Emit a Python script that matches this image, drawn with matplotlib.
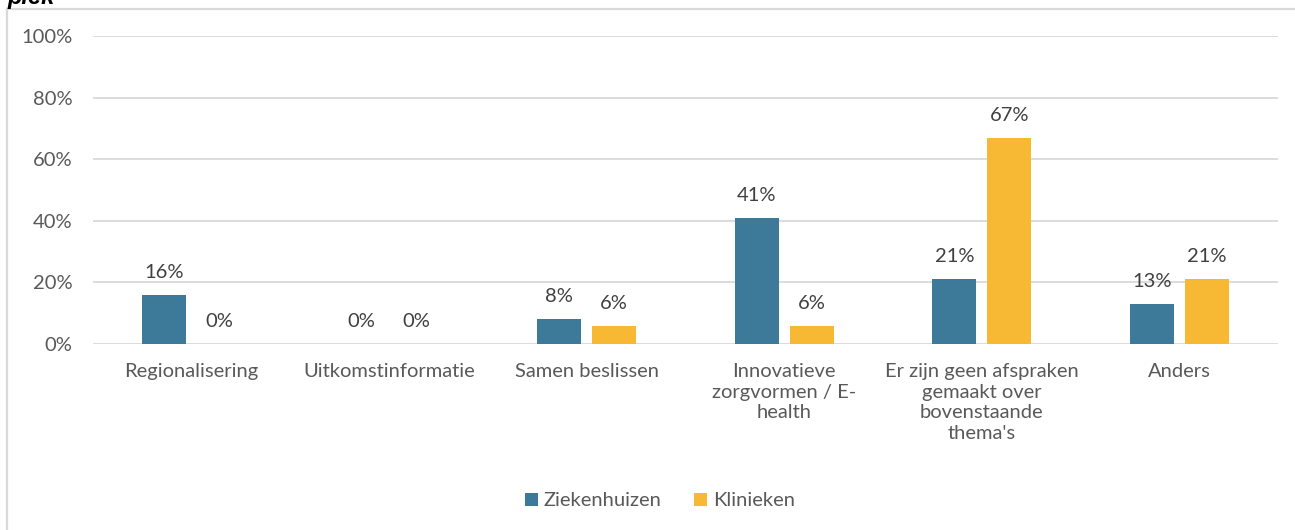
import matplotlib

matplotlib.use("Agg")
import matplotlib.pyplot as plt
import numpy as np

# data
categories = [
    "Regionalisering",
    "Uitkomstinformatie",
    "Samen beslissen",
    "Innovatieve\nzorgvormen / E-\nhealth",
    "Er zijn geen afspraken\ngemaakt over\nbovenstaande\nthema's",
    "Anders",
]
series_names = ["Ziekenhuizen", "Klinieken"]
ziekenhuizen = [16, 0, 8, 41, 21, 13]
klinieken = [0, 0, 6, 6, 67, 21]
yticks = [0, 20, 40, 60, 80, 100]

BLUE = "#3D7A99"
YELLOW = "#F7B934"
GRID = "#D9D9D9"
TICK = "#595959"
LABEL = "#404040"
FS = 14.5

plt.rcParams["font.family"] = ["Lato", "DejaVu Sans"]

fig = plt.figure(figsize=(12.95, 5.30), dpi=100)
ax = fig.add_axes([93 / 1295, 1 - 344 / 530, (1278 - 93) / 1295, (344 - 36) / 530])

x = np.arange(len(categories))
w = 0.223
off = 0.139
for vals, dx, color, name in [(ziekenhuizen, -off, BLUE, series_names[0]),
                              (klinieken, off, YELLOW, series_names[1])]:
    bars = ax.bar(x + dx, vals, width=w, color=color, label=name, zorder=3)
    for b, v in zip(bars, vals):
        ax.annotate(f"{v:.0f}%", (b.get_x() + b.get_width() / 2, v),
                    xytext=(0, 10), textcoords="offset points",
                    ha="center", va="bottom", fontsize=FS, color=LABEL)

ax.set_xlim(-0.5, len(categories) - 0.5)
ax.set_ylim(0, 100)
ax.set_yticks(yticks)
ax.set_yticklabels([f"{t}%" for t in yticks])
ax.set_xticks(x)
ax.set_xticklabels(categories, linespacing=1.25)
ax.tick_params(axis="y", length=0, pad=15, labelsize=FS, labelcolor=TICK)
ax.tick_params(axis="x", length=0, pad=14, labelsize=FS, labelcolor=TICK)
for lab in ax.get_xticklabels():
    lab.set_verticalalignment("top")
ax.grid(axis="y", color=GRID, linewidth=1.3, zorder=0)
for s in ax.spines.values():
    s.set_visible(False)

# legend below the plot
ax.legend(loc="center", bbox_to_anchor=(660 / 1295, 1 - 501 / 530),
          bbox_transform=fig.transFigure, ncol=2, frameon=False,
          fontsize=FS, handlelength=0.65, handleheight=0.65, handletextpad=0.3,
          columnspacing=1.6, labelcolor=TICK)

# chart frame (cropped screenshot) and the cut-off title above it
fig.add_artist(plt.Line2D([7 / 1295, 7 / 1295], [0, 1 - 9 / 530],
                          transform=fig.transFigure, color=GRID, lw=1.6))
fig.add_artist(plt.Line2D([7 / 1295, 1], [1 - 9 / 530, 1 - 9 / 530],
                          transform=fig.transFigure, color=GRID, lw=1.6))
fig.text(8 / 1295, 1 - 4 / 530, "plek", fontsize=17, fontweight="bold",
         fontstyle="italic", family=["Liberation Sans"], va="baseline", color="black")

fig.savefig("out.png", dpi=100)
